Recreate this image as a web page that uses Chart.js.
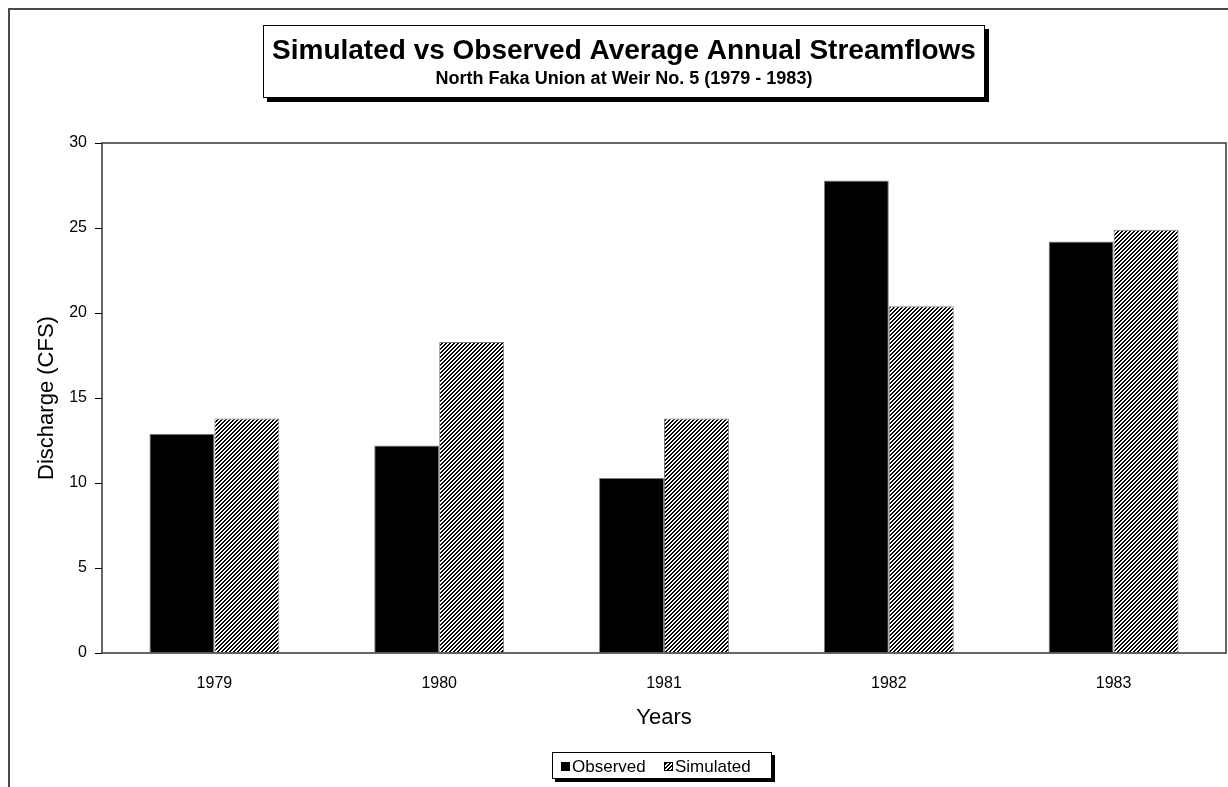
<!DOCTYPE html>
<html>
<head>
<meta charset="utf-8">
<title>Simulated vs Observed Average Annual Streamflows</title>
<script src="https://cdn.jsdelivr.net/npm/chart.js@4.4.1/dist/chart.umd.min.js"></script>
<style>
  html, body { margin: 0; padding: 0; background: #fff; }
  #wrap { width: 1228px; height: 787px; }
</style>
</head>
<body>
<div id="wrap"><canvas id="chart" width="1228" height="787"></canvas></div>
<script>
// Annual average discharge, North Faka Union at Weir No. 5
const years = ['1979', '1980', '1981', '1982', '1983'];
const observed = [12.9, 12.2, 10.3, 27.8, 24.2];
const simulated = [13.8, 18.3, 13.8, 20.4, 24.9];
const yMin = 0;
const yMax = 30;
const yStep = 5;

const titleText = 'Simulated vs Observed Average Annual Streamflows';
const subtitleText = 'North Faka Union at Weir No. 5 (1979 - 1983)';
const xTitle = 'Years';
const yTitle = 'Discharge (CFS)';
const seriesNames = ['Observed', 'Simulated'];

const FONT = 'Arial, "Liberation Sans", sans-serif';

// 4x4 diagonal hatch tile ("/" stripes, black and white)
function makeHatch() {
  const c = document.createElement('canvas');
  c.width = 4; c.height = 4;
  const g = c.getContext('2d');
  const img = g.createImageData(4, 4);
  for (let y = 0; y < 4; y++) {
    for (let x = 0; x < 4; x++) {
      const i = (y * 4 + x) * 4;
      const dark = ((x + y) % 4) < 2;
      const v = dark ? 0 : 255;
      img.data[i] = v; img.data[i + 1] = v; img.data[i + 2] = v; img.data[i + 3] = 255;
    }
  }
  g.putImageData(img, 0, 0);
  return document.getElementById('chart').getContext('2d').createPattern(c, 'repeat');
}
const hatch = makeHatch();

function shadowBox(ctx, x, y, w, h, off) {
  ctx.fillStyle = '#000';
  ctx.fillRect(x + off, y + off, w, h);
  ctx.fillStyle = '#fff';
  ctx.fillRect(x, y, w, h);
  ctx.strokeStyle = '#000';
  ctx.lineWidth = 1;
  ctx.strokeRect(x + 0.5, y + 0.5, w - 1, h - 1);
}

const decorations = {
  id: 'decorations',
  beforeDraw(chart) {
    const ctx = chart.ctx;
    ctx.save();
    ctx.fillStyle = '#fff';
    ctx.fillRect(0, 0, chart.width, chart.height);
    // outer frame (top and left edges)
    ctx.strokeStyle = '#4a4a4a';
    ctx.lineWidth = 2;
    ctx.beginPath();
    ctx.moveTo(9, chart.height);
    ctx.lineTo(9, 9);
    ctx.lineTo(chart.width, 9);
    ctx.stroke();
    ctx.restore();
  },
  afterDraw(chart) {
    const ctx = chart.ctx;
    const a = chart.chartArea;
    ctx.save();
    // plot area border
    ctx.strokeStyle = '#333';
    ctx.lineWidth = 1.5;
    ctx.strokeRect(a.left, a.top, a.right - a.left, a.bottom - a.top);

    // title box
    shadowBox(ctx, 263, 25, 722, 73, 4);
    ctx.fillStyle = '#000';
    ctx.textAlign = 'center';
    ctx.textBaseline = 'alphabetic';
    ctx.font = 'bold 28px ' + FONT;
    ctx.fillText(titleText, 624, 59);
    ctx.font = 'bold 18px ' + FONT;
    ctx.fillText(subtitleText, 624, 84);

    // axis titles
    ctx.font = '22px ' + FONT;
    ctx.fillStyle = '#000';
    ctx.textAlign = 'center';
    ctx.fillText(xTitle, (a.left + a.right) / 2, 724);
    ctx.save();
    ctx.translate(53, (a.top + a.bottom) / 2);
    ctx.rotate(-Math.PI / 2);
    ctx.fillText(yTitle, 0, 0);
    ctx.restore();

    // legend
    shadowBox(ctx, 552, 752, 220, 27, 3);
    ctx.fillStyle = '#000';
    ctx.fillRect(561, 762, 9, 9);
    ctx.fillStyle = hatch;
    ctx.fillRect(664, 762, 9, 9);
    ctx.strokeStyle = '#000';
    ctx.lineWidth = 1;
    ctx.strokeRect(664.5, 762.5, 8, 8);
    ctx.fillStyle = '#000';
    ctx.textAlign = 'left';
    ctx.font = '17px ' + FONT;
    ctx.fillText(seriesNames[0], 572, 772);
    ctx.fillText(seriesNames[1], 675, 772);
    ctx.restore();
  }
};

new Chart(document.getElementById('chart'), {
  type: 'bar',
  data: {
    labels: years,
    datasets: [
      {
        label: seriesNames[0],
        data: observed,
        backgroundColor: '#000',
        borderColor: '#808080',
        borderWidth: 1
      },
      {
        label: seriesNames[1],
        data: simulated,
        backgroundColor: hatch,
        borderColor: '#808080',
        borderWidth: 1
      }
    ]
  },
  options: {
    responsive: false,
    animation: false,
    devicePixelRatio: 1,
    layout: { padding: { top: 143, right: 2, left: 0, bottom: 0 } },
    datasets: {
      bar: { categoryPercentage: 0.578, barPercentage: 1.0 }
    },
    plugins: {
      legend: { display: false },
      title: { display: false },
      tooltip: { enabled: false }
    },
    scales: {
      x: {
        grid: { display: false },
        border: { display: false },
        ticks: { color: '#000', font: { family: FONT, size: 16 }, padding: 13 },
        afterFit(scale) { scale.height = 134; }
      },
      y: {
        min: yMin,
        max: yMax,
        grid: { drawOnChartArea: false, drawTicks: true, tickLength: 7, color: '#000' },
        border: { display: false },
        ticks: { stepSize: yStep, color: '#000', font: { family: FONT, size: 16 }, padding: 8 },
        afterFit(scale) { scale.width = 102; }
      }
    }
  },
  plugins: [decorations]
});
</script>
</body>
</html>
